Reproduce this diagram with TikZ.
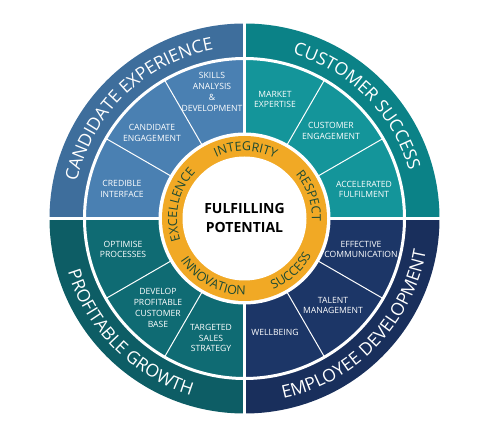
\documentclass[tikz,border=0pt]{standalone}
\usepackage{fontspec}
\setmainfont{Open Sans}
\usetikzlibrary{decorations.text}
\definecolor{ceOut}{HTML}{3E6E9C}
\definecolor{ceIn}{HTML}{4A80B2}
\definecolor{csOut}{HTML}{0B8287}
\definecolor{csIn}{HTML}{14959A}
\definecolor{pgOut}{HTML}{0D5D65}
\definecolor{pgIn}{HTML}{0F6B73}
\definecolor{edOut}{HTML}{192F5C}
\definecolor{edIn}{HTML}{1C3667}
\definecolor{ringY}{HTML}{F1A925}
\definecolor{ringTxt}{HTML}{1D4A33}
\newcommand\ringfmt{\fontsize{12.5}{14}\selectfont\color{ringTxt}}
\newcommand\bandfmt{\fontsize{17.6}{20}\selectfont\color{white}}
\begin{document}
\begin{tikzpicture}[x=1pt,y=1pt,
  lbl/.style={text=white, font=\fontsize{8.6}{10.8}\selectfont, align=center, inner sep=0pt},
  divider/.style={draw=white, line width=1pt},
  gapline/.style={draw=white, line width=3.5pt},
  outtext/.style={decorate, decoration={text along path, text align=center, text={#1}}},
]
\useasboundingbox (-244.5,-224.5) rectangle (255.5,218.5);

% quadrants
\foreach \a/\co/\ci in {90/ceOut/ceIn, 0/csOut/csIn, 180/pgOut/pgIn, 270/edOut/edIn} {
  \fill[\co] (0,0) -- (\a:195) arc[start angle=\a, end angle=\a+90, radius=195] -- cycle;
  \fill[\ci] (0,0) -- (\a:160) arc[start angle=\a, end angle=\a+90, radius=160] -- cycle;
}
\draw[white, line width=3pt] (0,0) circle[radius=160];
\foreach \a in {30,60,120,150,210,240,300,330}
  \draw[divider] (\a:86) -- (\a:159);
\draw[gapline] (0,-197) -- (0,197);
\draw[gapline] (-197,0) -- (197,0);

% centre ring
\fill[white] (0,0) circle[radius=86];
\fill[ringY] (0,0) circle[radius=82.5];
\fill[white] (0,0) circle[radius=62];
\node[font=\fontsize{14}{18.5}\selectfont\bfseries, align=center, inner sep=0pt] (core) at (0,0.5) {FULFILLING\\POTENTIAL};

% ring words (tops outward: clockwise; tops inward: counter-clockwise)
\path[outtext={|\ringfmt|INTEGRITY}] (149:67.5) arc[start angle=149, end angle=29, radius=67.5];
\path[outtext={|\ringfmt|RESPECT}] (79.4:67.5) arc[start angle=79.4, end angle=-40.6, radius=67.5];
\path[outtext={|\ringfmt|EXCELLENCE}] (227.5:67.5) arc[start angle=227.5, end angle=107.5, radius=67.5];
\path[outtext={|\ringfmt|SUCCESS}] (-108.5:76.5) arc[start angle=-108.5, end angle=11.5, radius=76.5];
\path[outtext={|\ringfmt|INNOVATION}] (-178:76.5) arc[start angle=-178, end angle=-58, radius=76.5];

% band titles
\path[outtext={|\bandfmt|CANDIDATE EXPERIENCE}] (184:171.5) arc[start angle=184, end angle=84, radius=171.5];
\path[outtext={|\bandfmt|CUSTOMER SUCCESS}] (95:171.5) arc[start angle=95, end angle=-5, radius=171.5];
\path[outtext={|\bandfmt|PROFITABLE GROWTH}] (175:184.5) arc[start angle=175, end angle=275, radius=184.5];
\path[outtext={|\bandfmt|EMPLOYEE DEVELOPMENT}] (-94:184.5) arc[start angle=-94, end angle=6, radius=184.5];

% sector labels
\node[lbl] (sk) at (-32.5,126.5) {SKILLS\\ANALYSIS\\\&\\DEVELOPMENT};
\node[lbl] (ce) at (-92.5,85.5) {CANDIDATE\\ENGAGEMENT};
\node[lbl] (ci) at (-122.5,29.5) {CREDIBLE\\INTERFACE};
\node[lbl] (me) at (30.5,119) {MARKET\\EXPERTISE};
\node[lbl] (cu) at (86.5,87.5) {CUSTOMER\\ENGAGEMENT};
\node[lbl] (af) at (119.5,29) {ACCELERATED\\FULFILMENT};
\node[lbl] (op) at (-121.5,-31) {OPTIMISE\\PROCESSES};
\node[lbl] (dp) at (-86.5,-89.5) {DEVELOP\\PROFITABLE\\CUSTOMER\\BASE};
\node[lbl] (ts) at (-33.5,-119.5) {TARGETED\\SALES\\STRATEGY};
\node[lbl] (ec) at (116.5,-31) {EFFECTIVE\\COMMUNICATION};
\node[lbl] (tm) at (88.5,-87) {TALENT\\MANAGEMENT};
\node[lbl] (wb) at (30.5,-113.5) {WELLBEING};
\end{tikzpicture}
\end{document}
